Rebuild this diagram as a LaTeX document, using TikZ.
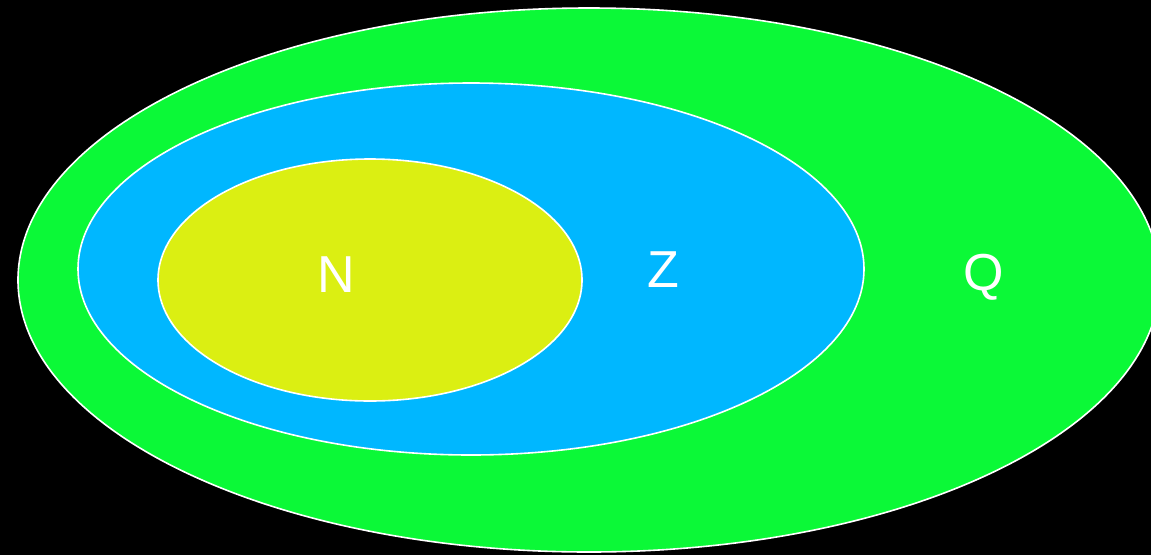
\documentclass[tikz,border=0pt]{standalone}
\usepackage{fontspec}
\setmainfont{Liberation Sans}
\usepackage{tikz}
\definecolor{QGreen}{HTML}{0BF937}
\definecolor{ZBlue}{HTML}{00B7FF}
\definecolor{NYellow}{HTML}{DBEF12}

\begin{document}
\begin{tikzpicture}[
        x=1pt,y=-1pt,
        set/.style={draw=white,line width=1.6pt},
        lbl/.style={text=white,inner sep=0pt,font=\fontsize{52}{52}\selectfont}
      ]
      \useasboundingbox (0,0) rectangle (1151,555);
      \fill[black] (0,0) rectangle (1151,555);
      \clip (0,0) rectangle (1151,555);

      % nested sets
      \draw[set,fill=QGreen] (589,280) ellipse [x radius=571,y radius=272];
      \draw[set,fill=ZBlue] (471,269) ellipse [x radius=393,y radius=186];
      \draw[set,fill=NYellow] (370,280) ellipse [x radius=212,y radius=121];

      \node[lbl] (nat) at (336,275) {N};
      \node[lbl] (int) at (663,270) {Z};
      \node[lbl] (rat) at (984,277) {Q};
    \end{tikzpicture}
\end{document}
